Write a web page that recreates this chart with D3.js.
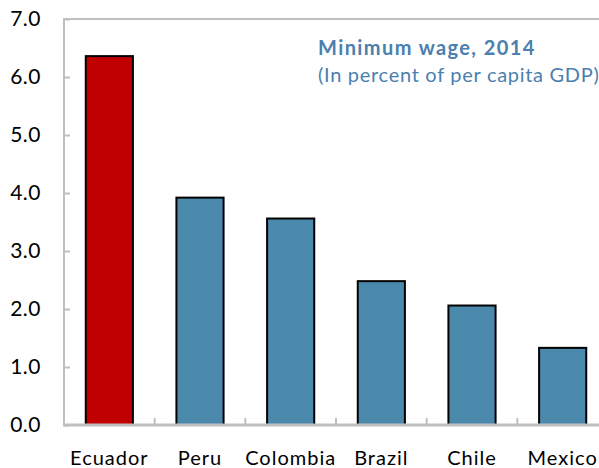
<!DOCTYPE html>
<html>
<head>
<meta charset="utf-8">
<script src="https://cdn.jsdelivr.net/npm/d3@7"></script>
<style>
  html, body { margin: 0; padding: 0; background: #fff; }
  svg { display: block; }
  text { font-family: Lato, "Noto Sans", sans-serif; }
</style>
</head>
<body>
<svg id="chart" width="599" height="468"></svg>
<script>
// Minimum wage as a share of per capita GDP, 2014
const countries = ["Ecuador", "Peru", "Colombia", "Brazil", "Chile", "Mexico"];
const wageShare = [6.36, 3.92, 3.56, 2.48, 2.06, 1.33];
const yTicks = [0, 1, 2, 3, 4, 5, 6, 7];
const highlight = "Ecuador";

const svg = d3.select("#chart");
const plot = { left: 64, right: 608, top: 19, bottom: 425 };

const x = d3.scaleBand()
  .domain(countries)
  .range([plot.left, plot.right])
  .paddingInner(0.48)
  .paddingOuter(0.24);

const y = d3.scaleLinear()
  .domain([0, 7])
  .range([plot.bottom, plot.top]);

const axisGrey = "#bfbfbf";

// plot frame (top edge)
svg.append("line")
  .attr("x1", plot.left).attr("x2", 599)
  .attr("y1", y(7)).attr("y2", y(7))
  .attr("stroke", axisGrey).attr("stroke-width", 2);

// bars
svg.append("g").selectAll("rect")
  .data(countries.map((c, i) => ({ c, v: wageShare[i] })))
  .join("rect")
  .attr("x", d => x(d.c))
  .attr("width", x.bandwidth())
  .attr("y", d => y(d.v))
  .attr("height", d => y(0) - y(d.v))
  .attr("fill", d => d.c === highlight ? "#c00000" : "#4a89ac")
  .attr("stroke", "#000")
  .attr("stroke-width", 2);

// y axis
const yAxis = svg.append("g")
  .attr("transform", `translate(${plot.left},0)`)
  .call(d3.axisRight(y).tickValues(yTicks).tickSize(6).tickFormat(""));
yAxis.select(".domain").attr("stroke", axisGrey).attr("stroke-width", 2)
  .attr("d", `M0,${y(7) - 1}V${y(0)}`);
yAxis.selectAll(".tick line").attr("stroke", axisGrey).attr("stroke-width", 2);

svg.append("g").selectAll("text")
  .data(yTicks)
  .join("text")
  .attr("x", 41)
  .attr("y", d => y(d))
  .attr("dy", "0.35em")
  .attr("text-anchor", "end")
  .attr("font-size", 21)
  .attr("letter-spacing", 0.5)
  .attr("fill", "#000")
  .text(d => d.toFixed(1));

// x axis with tick marks between categories
const step = x.step();
const boundaries = countries.slice(1).map(c => x(c) - (step - x.bandwidth()) / 2);
const xAxis = svg.append("g");
xAxis.append("line")
  .attr("x1", plot.left - 1).attr("x2", 599)
  .attr("y1", y(0)).attr("y2", y(0))
  .attr("stroke", axisGrey).attr("stroke-width", 3);
xAxis.selectAll("line.tick")
  .data(boundaries)
  .join("line")
  .attr("class", "tick")
  .attr("x1", d => d).attr("x2", d => d)
  .attr("y1", y(0)).attr("y2", y(0) - 7)
  .attr("stroke", axisGrey).attr("stroke-width", 2);

svg.append("g").selectAll("text")
  .data(countries)
  .join("text")
  .attr("x", d => x(d) + x.bandwidth() / 2)
  .attr("y", 465)
  .attr("text-anchor", "middle")
  .attr("font-size", 20)
  .attr("letter-spacing", 1)
  .attr("fill", "#000")
  .text(d => d);

// title
svg.append("text")
  .attr("x", 318).attr("y", 55)
  .attr("font-size", 20).attr("font-weight", "bold")
  .attr("letter-spacing", 1.4)
  .attr("fill", "#4a7fae")
  .text("Minimum wage, 2014");
svg.append("text")
  .attr("x", 318).attr("y", 82)
  .attr("font-size", 20)
  .attr("letter-spacing", 0.7)
  .attr("fill", "#4a7fae")
  .text("(In percent of per capita GDP)");
</script>
</body>
</html>
